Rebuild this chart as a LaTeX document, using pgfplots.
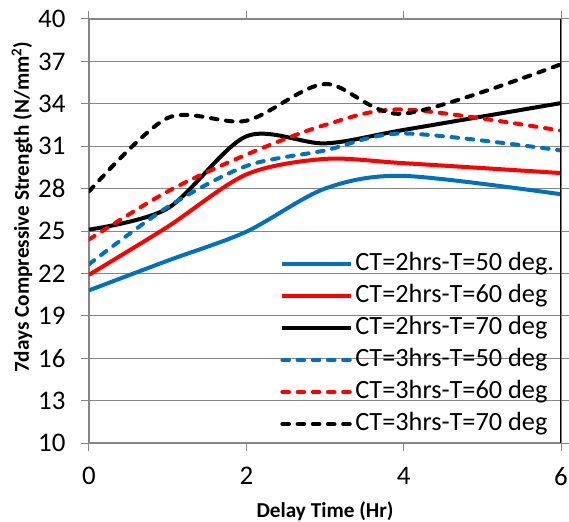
\documentclass[border=0pt]{standalone}
\usepackage{fontspec}
\setmainfont{Carlito}
\usepackage{pgfplots}
\pgfplotsset{compat=1.18}
\definecolor{xlblue}{RGB}{0,112,192}
\definecolor{gridgray}{RGB}{134,134,134}
\begin{document}
\begin{tikzpicture}
\begin{axis}[
  name=ax,
  scale only axis, width=472bp, height=424bp,
  xmin=0, xmax=6, ymin=10, ymax=40,
  xtick={0,2,4,6}, ytick={10,13,...,40},
  ymajorgrids, grid style={gridgray, line width=1bp},
  axis line style={gridgray, line width=1.2bp},
  tick align=outside, major tick length=8bp,
  tick style={gridgray, line width=1bp},
  ticklabel style={font=\fontsize{27}{30}\selectfont},
  yticklabel style={xshift=-12bp},
  xticklabel style={yshift=-13bp},
  /pgf/number format/assume math mode=true,
  xlabel={Delay Time (Hr)},
  ylabel={7days Compressive Strength (N/mm\textsuperscript{2})},
  label style={font=\bfseries\fontsize{21.3}{25}\selectfont},
  xlabel style={at={(axis description cs:0.5,-0.16)}, anchor=center},
  ylabel style={at={(axis description cs:-0.142,0.556)}, anchor=center},
  legend cell align=left,
  legend style={at={(axis description cs:0.405,0.452)}, anchor=north west,
    draw=none, fill=none, inner sep=0pt, row sep=7bp,
    font=\fontsize{26.4}{30}\selectfont,
    nodes={inner ysep=0bp, text height=19bp, text depth=6bp}},
  legend image code/.code={\draw[#1] (0bp,0bp) -- (69bp,0bp);},
  every axis plot/.append style={line width=4bp, smooth},
  dsh/.style={dash pattern=on 6.6bp off 8.6bp, line cap=round},
]
\addplot[xlblue] coordinates {(0,20.8) (1,22.9) (2,24.95) (3,28.0) (4,28.9) (6,27.6)};
\addlegendentry{CT=2hrs-T=50 deg.}
\addplot[red] coordinates {(0,21.9) (1,25.3) (2,29.0) (3,30.1) (4,29.8) (6,29.1)};
\addlegendentry{CT=2hrs-T=60 deg}
\addplot[black] coordinates {(0,25.1) (1,26.6) (2,31.7) (3,31.2) (4,32.15) (6,34.05)};
\addlegendentry{CT=2hrs-T=70 deg}
\addplot[xlblue, dsh] coordinates {(0,22.65) (1,26.7) (2,29.6) (3,30.7) (4,31.9) (6,30.7)};
\addlegendentry{CT=3hrs-T=50 deg}
\addplot[red, dsh] coordinates {(0,24.4) (1,27.8) (2,30.4) (3,32.5) (4,33.6) (6,32.1)};
\addlegendentry{CT=3hrs-T=60 deg}
\addplot[black, dsh] coordinates {(0,27.8) (1,33.0) (2,32.8) (3,35.4) (4,33.3) (6,36.8)};
\addlegendentry{CT=3hrs-T=70 deg}
\draw[black, line width=2bp] (rel axis cs:1,0) -- (rel axis cs:1,1);
\end{axis}
\pgfresetboundingbox
\path[use as bounding box] ([shift={(-89bp,-79bp)}]ax.south west) rectangle ([shift={(8bp,19bp)}]ax.north east);
\end{tikzpicture}
\end{document}
